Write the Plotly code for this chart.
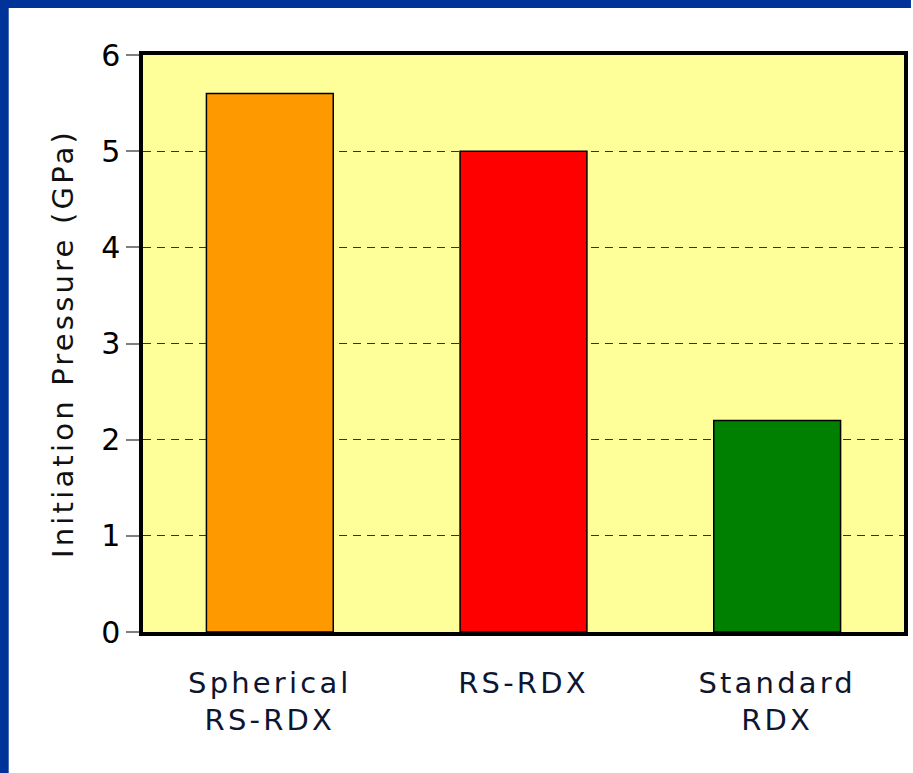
import plotly.graph_objects as go

# Data
categories = ["Spherical<br>RS-RDX", "RS-RDX", "Standard<br>RDX"]
pressures = [5.6, 5.0, 2.2]
bar_colors = ["#FF9900", "#FF0000", "#008000"]
y_ticks = [0, 1, 2, 3, 4, 5, 6]

W, H = 913, 773
ML, MR, MT, MB = 143, 5, 55, 141
PW, PH = W - ML - MR, H - MT - MB
FRAME = 8  # width of the blue frame along top and left edges


def px_x(p):
    return (p - ML) / PW


def px_y(p):
    return (H - MB - p) / PH


fig = go.Figure(
    go.Bar(
        x=list(range(len(categories))),
        y=pressures,
        width=0.5,
        marker=dict(color=bar_colors, line=dict(color="black", width=1.5)),
        showlegend=False,
    )
)

font_family = "DejaVu Sans"

fig.update_layout(
    width=W,
    height=H,
    margin=dict(l=ML, r=MR, t=MT, b=MB, pad=0),
    paper_bgcolor="white",
    plot_bgcolor="#FFFF99",
    font=dict(family=font_family, size=28, color="#111111"),
    shapes=[
        dict(type="rect", xref="paper", yref="paper", layer="below",
             x0=px_x(-2), x1=px_x(W + 2), y0=px_y(FRAME), y1=px_y(-2),
             fillcolor="#003399", line=dict(width=0)),
        dict(type="rect", xref="paper", yref="paper", layer="below",
             x0=px_x(-2), x1=px_x(FRAME), y0=px_y(H + 2), y1=px_y(-2),
             fillcolor="#003399", line=dict(width=0)),
    ],
)

fig.update_xaxes(
    range=[-0.5, len(categories) - 0.5],
    tickvals=list(range(len(categories))),
    ticktext=categories,
    ticks="",
    showgrid=False,
    zeroline=False,
    showline=True,
    linecolor="black",
    linewidth=3.5,
    mirror=True,
    tickfont=dict(family=font_family, size=29, color="#0D1530"),
    ticklabelstandoff=22,
)

fig.update_yaxes(
    range=[0, 6],
    tickvals=y_ticks,
    ticks="outside",
    ticklen=13,
    tickwidth=2,
    tickcolor="#7F7F7F",
    showgrid=True,
    gridcolor="#333333",
    gridwidth=1,
    griddash="8px,6px",
    zeroline=False,
    showline=True,
    linecolor="black",
    linewidth=3.5,
    mirror=True,
    tickfont=dict(family=font_family, size=30, color="black"),
    title=dict(text="Initiation Pressure (GPa)",
               font=dict(family=font_family, size=29, color="#111111"),
               standoff=20),
)

# Widen the letter spacing of the category labels and the axis title
post_js = """
var gd = document.getElementById('{plot_id}');
function spaceLetters() {
  gd.querySelectorAll('.xtick text').forEach(function (t) {
    t.setAttribute('letter-spacing', '3.2px');
  });
  gd.querySelectorAll('.ytitle').forEach(function (t) {
    t.setAttribute('letter-spacing', '3.2px');
  });
}
spaceLetters();
if (gd.on) { gd.on('plotly_afterplot', spaceLetters); }
"""

fig.write_html("out.html", post_script=post_js)
